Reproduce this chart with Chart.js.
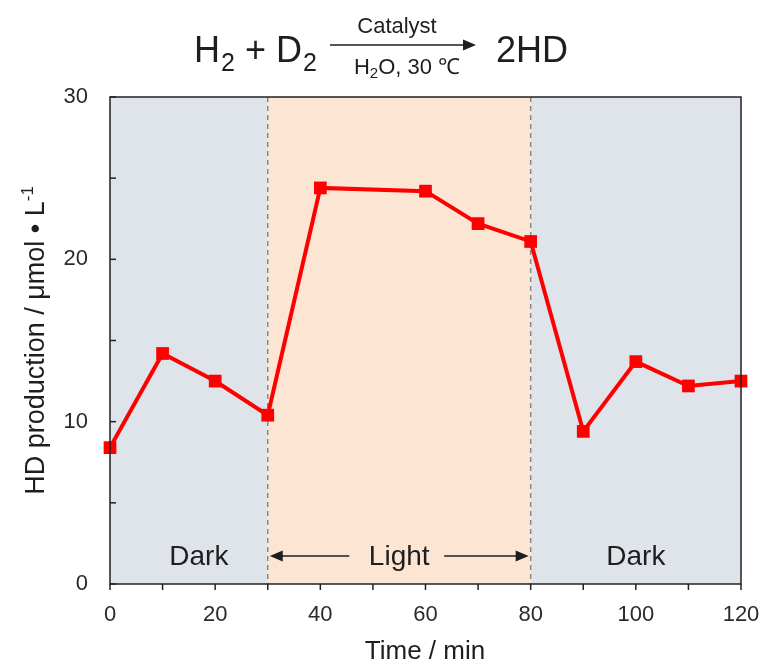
<!DOCTYPE html>
<html>
<head>
<meta charset="utf-8">
<script src="https://cdn.jsdelivr.net/npm/chart.js@4.4.1/dist/chart.umd.min.js"></script>
<style>
  html, body { margin: 0; padding: 0; background: #fff; }
  #wrap { width: 764px; height: 665px; }
</style>
</head>
<body>
<div id="wrap"><canvas id="hdChart" width="764" height="665"></canvas></div>
<script>
var timeMin = [0, 10, 20, 30, 40, 60, 70, 80, 90, 100, 110, 120];
var hdValues = [8.4, 14.2, 12.5, 10.4, 24.4, 24.2, 22.2, 21.1, 9.4, 13.7, 12.2, 12.5];
var lightStart = 30;
var lightEnd = 80;
var xTickLabels = [0, 20, 40, 60, 80, 100, 120];
var yTickLabels = [0, 10, 20, 30];

var FONT = "'Liberation Sans', Arial, sans-serif";
var textColor = "#1e1e1e";

function drawArrow(ctx, x1, x2, y) {
    var dir = x2 > x1 ? 1 : -1;
    ctx.beginPath();
    ctx.moveTo(x1, y);
    ctx.lineTo(x2 - dir * 8, y);
    ctx.stroke();
    ctx.beginPath();
    ctx.moveTo(x2, y);
    ctx.lineTo(x2 - dir * 13, y - 5.5);
    ctx.lineTo(x2 - dir * 13, y + 5.5);
    ctx.closePath();
    ctx.fill();
}

var regionsPlugin = {
    id: "regions",
    beforeDatasetsDraw: function(chart) {
        var ctx = chart.ctx, a = chart.chartArea;
        var xs = chart.scales.x;
        var l = xs.getPixelForValue(lightStart), r = xs.getPixelForValue(lightEnd);
        ctx.save();
        ctx.fillStyle = "#dfe3ea";
        ctx.fillRect(a.left, a.top, l - a.left, a.bottom - a.top);
        ctx.fillRect(r, a.top, a.right - r, a.bottom - a.top);
        ctx.fillStyle = "#fce6d3";
        ctx.fillRect(l, a.top, r - l, a.bottom - a.top);
        ctx.strokeStyle = "#888";
        ctx.lineWidth = 1.5;
        ctx.setLineDash([5, 4]);
        [l, r].forEach(function(px) {
            ctx.beginPath();
            ctx.moveTo(px, a.top);
            ctx.lineTo(px, a.bottom);
            ctx.stroke();
        });
        ctx.setLineDash([]);

        // region labels
        ctx.fillStyle = textColor;
        ctx.strokeStyle = textColor;
        ctx.lineWidth = 1.6;
        ctx.font = "28px " + FONT;
        ctx.textAlign = "center";
        ctx.textBaseline = "alphabetic";
        var ly = a.bottom - 19;
        ctx.fillText("Dark", (a.left + l) / 2 + 10, ly);
        ctx.fillText("Dark", (r + a.right) / 2, ly);
        var mid = (l + r) / 2;
        ctx.fillText("Light", mid, ly);
        drawArrow(ctx, mid - 50, l + 2, ly - 9);
        drawArrow(ctx, mid + 45, r - 2, ly - 9);
        ctx.restore();
    },
    afterDraw: function(chart) {
        var ctx = chart.ctx, a = chart.chartArea;
        ctx.save();
        // frame
        ctx.strokeStyle = "#222";
        ctx.lineWidth = 1.5;
        ctx.strokeRect(a.left, a.top, a.right - a.left, a.bottom - a.top);
        // y ticks inward
        chart.scales.y.ticks.forEach(function(t) {
            var py = chart.scales.y.getPixelForValue(t.value);
            ctx.beginPath();
            ctx.moveTo(a.left, py);
            ctx.lineTo(a.left + 6, py);
            ctx.stroke();
        });
        // x ticks outward
        chart.scales.x.ticks.forEach(function(t) {
            var px = chart.scales.x.getPixelForValue(t.value);
            ctx.beginPath();
            ctx.moveTo(px, a.bottom);
            ctx.lineTo(px, a.bottom + 6);
            ctx.stroke();
        });

        // top equation
        ctx.fillStyle = textColor;
        ctx.textBaseline = "alphabetic";
        ctx.textAlign = "left";
        var big = "36px " + FONT, sub = "25px " + FONT;
        var x = 194, base = 62;
        ctx.font = big; ctx.fillText("H", x, base); x += ctx.measureText("H").width + 1;
        ctx.font = sub; ctx.fillText("2", x, base + 9); x += ctx.measureText("2").width;
        ctx.font = big; ctx.fillText(" + D", x, base); x += ctx.measureText(" + D").width + 1;
        ctx.font = sub; ctx.fillText("2", x, base + 9);
        // arrow
        ctx.strokeStyle = textColor;
        ctx.lineWidth = 1.6;
        drawArrow(ctx, 330, 476, 45);
        ctx.textAlign = "center";
        ctx.font = "22px " + FONT;
        ctx.fillText("Catalyst", 397, 33);
        // H2O, 30 ℃
        var s1 = "H", s2 = "2", s3 = "O, 30 \u2103";
        ctx.font = "22px " + FONT;
        var w1 = ctx.measureText(s1).width, w3 = ctx.measureText(s3).width;
        ctx.font = "15px " + FONT;
        var w2 = ctx.measureText(s2).width;
        var sx = 407 - (w1 + w2 + w3) / 2;
        ctx.textAlign = "left";
        ctx.font = "22px " + FONT; ctx.fillText(s1, sx, 74);
        ctx.font = "15px " + FONT; ctx.fillText(s2, sx + w1, 78);
        ctx.font = "22px " + FONT; ctx.fillText(s3, sx + w1 + w2, 74);
        ctx.font = big; ctx.fillText("2HD", 496, base);

        // x axis title
        ctx.textAlign = "center";
        ctx.font = "26px " + FONT;
        ctx.fillText("Time / min", 425, 659);

        // y axis title with superscript
        ctx.translate(44, (a.top + a.bottom) / 2);
        ctx.rotate(-Math.PI / 2);
        var m1 = "HD production / \u03bcmol \u2022 L", m2 = "-1";
        ctx.font = "27px " + FONT;
        var mw1 = ctx.measureText(m1).width;
        ctx.font = "17px " + FONT;
        var mw2 = ctx.measureText(m2).width;
        var tx = -(mw1 + mw2) / 2;
        ctx.textAlign = "left";
        ctx.font = "27px " + FONT; ctx.fillText(m1, tx, 0);
        ctx.font = "17px " + FONT; ctx.fillText(m2, tx + mw1, -11);
        ctx.restore();
    }
};

var ctx = document.getElementById("hdChart").getContext("2d");
var myChart = new Chart(ctx, {
    type: "line",
    data: {
        labels: timeMin,
        datasets: [{
            data: timeMin.map(function(t, i) { return { x: t, y: hdValues[i] }; }),
            borderColor: "#ff0000",
            backgroundColor: "#ff0000",
            borderWidth: 4,
            pointStyle: "rect",
            pointRadius: 9,
            pointHoverRadius: 9,
            pointBorderWidth: 0,
            tension: 0,
            clip: false
        }]
    },
    plugins: [regionsPlugin],
    options: {
        responsive: false,
        animation: false,
        layout: { padding: { left: 0, right: 23, top: 97, bottom: 0 } },
        plugins: {
            legend: { display: false },
            tooltip: { enabled: false }
        },
        scales: {
            x: {
                type: "linear",
                min: 0,
                max: 120,
                afterFit: function(scale) {
                    scale.height = 81;
                    scale.paddingLeft = 0;
                    scale.paddingRight = 0;
                },
                grid: { display: false },
                border: { display: false },
                ticks: {
                    stepSize: 10,
                    padding: 10,
                    color: "#2a2a2a",
                    font: { family: FONT, size: 22 },
                    maxRotation: 0,
                    autoSkip: false,
                    callback: function(v) { return xTickLabels.indexOf(v) >= 0 ? String(v) : ""; }
                }
            },
            y: {
                min: 0,
                max: 30,
                afterFit: function(scale) {
                    scale.width = 110;
                    scale.paddingTop = 0;
                    scale.paddingBottom = 0;
                },
                grid: { display: false },
                border: { display: false },
                ticks: {
                    stepSize: 5,
                    padding: 14,
                    color: "#2a2a2a",
                    font: { family: FONT, size: 22 },
                    callback: function(v) { return yTickLabels.indexOf(v) >= 0 ? String(v) : ""; }
                }
            }
        }
    }
});
</script>
</body>
</html>
